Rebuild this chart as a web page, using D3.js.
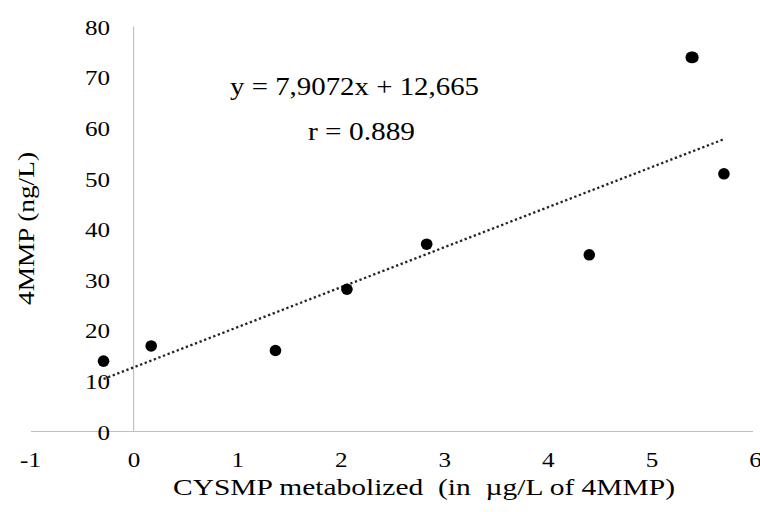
<!DOCTYPE html>
<html>
<head>
<meta charset="utf-8">
<script src="https://cdn.jsdelivr.net/npm/d3@7"></script>
<style>
  body { margin: 0; background: #fff; }
  svg text { font-family: "Liberation Serif", "Times New Roman", serif; fill: #000; }
</style>
</head>
<body>
<svg id="chart" width="760" height="512"></svg>
<script>
// measured samples: CYSMP metabolized (x) vs 4MMP (y)
const xValues = [-0.29, 0.17, 1.37, 2.06, 2.83, 4.40, 5.385, 5.40, 5.70];
const yValues = [13.9, 16.9, 16.0, 28.1, 37.0, 34.9, 73.9, 73.9, 50.9];

const xTicks = [-1, 0, 1, 2, 3, 4, 5, 6];
const yTicks = [0, 10, 20, 30, 40, 50, 60, 70, 80];

// trend line reported on the chart
const slope = 7.9072;
const intercept = 12.665;
const equationText = 'y = 7,9072x + 12,665';
const rText = 'r = 0.889';

const svg = d3.select('#chart');

const x = d3.scaleLinear().domain([-1, 6]).range([30, 755]);
const y = d3.scaleLinear().domain([0, 80]).range([431.5, 26.5]);

const axisColor = '#c0c0c0';

// the source picture is stretched sideways, so widen glyphs a little
function widen(sel, k) {
  sel.each(function () {
    const w = this.getComputedTextLength();
    d3.select(this)
      .attr('textLength', w * k)
      .attr('lengthAdjust', 'spacingAndGlyphs');
  });
}

// x axis (at y = 0)
const xAxis = svg.append('g')
  .attr('transform', `translate(0,${y(0)})`)
  .call(d3.axisBottom(x).tickValues(xTicks).tickSize(0).tickPadding(0).tickFormat((d) => String(d)));
xAxis.select('.domain').remove();
xAxis.selectAll('text')
  .attr('y', 35.5)
  .attr('dy', null)
  .attr('font-size', 22)
  .call(widen, 1.14);

svg.append('line')
  .attr('x1', 31).attr('x2', 753)
  .attr('y1', y(0)).attr('y2', y(0))
  .attr('stroke', axisColor)
  .attr('stroke-width', 1.2);

// y axis (labels at the left, line at x = 0)
const yAxis = svg.append('g')
  .attr('transform', 'translate(110,0)')
  .call(d3.axisLeft(y).tickValues(yTicks).tickSize(0).tickPadding(0));
yAxis.select('.domain').remove();
yAxis.selectAll('text')
  .attr('x', 0)
  .attr('dy', '0.35em')
  .attr('font-size', 22)
  .call(widen, 1.14);

svg.append('line')
  .attr('x1', x(0)).attr('x2', x(0))
  .attr('y1', y(80)).attr('y2', y(0))
  .attr('stroke', axisColor)
  .attr('stroke-width', 1.2);

// dotted trend line between the extreme x values
const [xMin, xMax] = d3.extent(xValues);
svg.append('line')
  .attr('x1', x(xMin)).attr('y1', y(slope * xMin + intercept))
  .attr('x2', x(xMax)).attr('y2', y(slope * xMax + intercept))
  .attr('stroke', '#222')
  .attr('stroke-width', 2.3)
  .attr('stroke-dasharray', '2.3,2.6');

// points
svg.append('g')
  .selectAll('circle')
  .data(xValues.map((v, i) => [v, yValues[i]]))
  .join('circle')
  .attr('cx', (d) => x(d[0]))
  .attr('cy', (d) => y(d[1]))
  .attr('r', 5.8)
  .attr('fill', '#000');

// equation labels
svg.append('text')
  .attr('x', 230)
  .attr('y', 95)
  .attr('font-size', 25)
  .attr('textLength', 249)
  .attr('lengthAdjust', 'spacingAndGlyphs')
  .text(equationText);

svg.append('text')
  .attr('x', 308)
  .attr('y', 140)
  .attr('font-size', 25)
  .attr('textLength', 107)
  .attr('lengthAdjust', 'spacingAndGlyphs')
  .text(rText);

// axis titles
svg.append('text')
  .attr('x', 173)
  .attr('y', 495)
  .attr('font-size', 23)
  .attr('xml:space', 'preserve')
  .attr('textLength', 502)
  .attr('lengthAdjust', 'spacingAndGlyphs')
  .text('CYSMP metabolized  (in  µg/L of 4MMP)');

svg.append('text')
  .attr('transform', 'translate(33.5,305) rotate(-90)')
  .attr('font-size', 23)
  .attr('textLength', 153)
  .attr('lengthAdjust', 'spacingAndGlyphs')
  .text('4MMP (ng/L)');
</script>
</body>
</html>
